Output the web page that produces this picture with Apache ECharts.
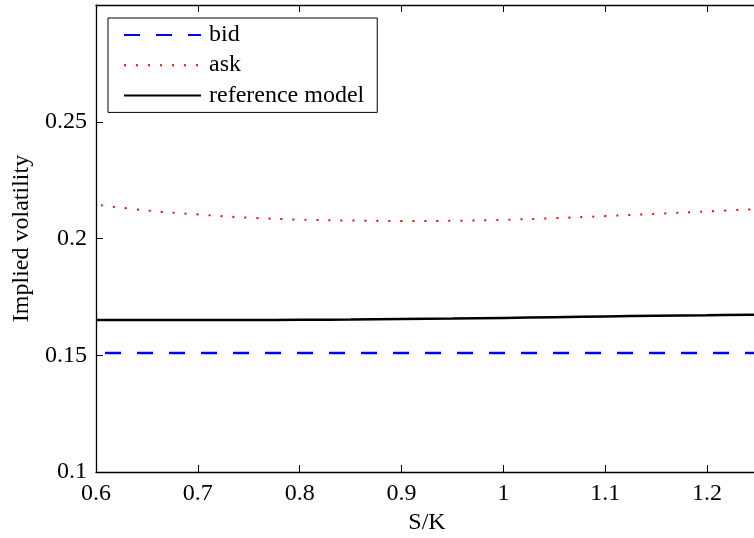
<!DOCTYPE html>
<html>
<head>
<meta charset="utf-8">
<script src="https://cdn.jsdelivr.net/npm/echarts@6/dist/echarts.min.js"></script>
<style>html,body{margin:0;padding:0;background:#fff}#c{width:754px;height:538px}</style>
</head>
<body>
<div id="c"></div>
<script>
// Data
var sk = [0.60, 0.65, 0.70, 0.75, 0.80, 0.85, 0.90, 0.95, 1.00, 1.05, 1.10, 1.15, 1.20, 1.25];
var bid = [0.151, 0.151, 0.151, 0.151, 0.151, 0.151, 0.151, 0.151, 0.151, 0.151, 0.151, 0.151, 0.151, 0.151];
var ask = [0.2145, 0.2120, 0.2103, 0.2089, 0.2081, 0.2077, 0.2075, 0.2076, 0.2080, 0.2087, 0.2096, 0.2106, 0.2116, 0.2126];
var refModel = [0.1651, 0.1651, 0.1651, 0.1651, 0.1652, 0.1653, 0.1655, 0.1657, 0.1660, 0.1663, 0.1666, 0.1669, 0.1671, 0.1674];
var seriesNames = ['bid', 'ask', 'reference model'];
var xTitle = 'S/K';
var yTitle = 'Implied volatility';

function pairs(xs, ys) { return xs.map(function (x, i) { return [x, ys[i]]; }); }
function fmt(v) { return String(+v.toFixed(2)); }

var FONT = '"Liberation Serif", "Times New Roman", serif';
var chart = echarts.init(document.getElementById('c'), null, { renderer: 'canvas' });
var axisCommon = {
  axisLine: { show: true, onZero: false, lineStyle: { color: '#000', width: 1.3 } },
  axisTick: { show: true, inside: true, length: 7, lineStyle: { color: '#000', width: 1 } },
  splitLine: { show: false }
};
chart.setOption({
  animation: false,
  backgroundColor: '#fff',
  grid: { left: 96, top: 5, width: 662, height: 467, containLabel: false, outerBoundsMode: 'none' },
  legend: {
    orient: 'vertical', left: 108, top: 18,
    data: seriesNames,
    itemWidth: 77, itemHeight: 14, itemGap: 6.2,
    padding: [5, 13, 5, 15],
    borderColor: '#000', borderWidth: 1, backgroundColor: '#fff',
    itemStyle: { opacity: 0, borderWidth: 0 },
    lineStyle: { dashOffset: 0 },
    textStyle: { fontFamily: FONT, fontSize: 24, color: '#000', padding: [0, 0, 0, 3] }
  },
  xAxis: [
    Object.assign({}, axisCommon, {
      type: 'value', position: 'bottom', min: 0.6, max: 1.25, interval: 0.1,
      name: xTitle, nameLocation: 'middle', nameGap: 30,
      nameTextStyle: { fontFamily: FONT, fontSize: 24, color: '#000' },
      axisLabel: { fontFamily: FONT, fontSize: 24, color: '#000', margin: 10,
        formatter: function (v) { return v > 1.24 ? '' : fmt(v); } }
    }),
    Object.assign({}, axisCommon, {
      type: 'value', position: 'top', min: 0.6, max: 1.25, interval: 0.1,
      axisLabel: { show: false }
    })
  ],
  yAxis: [
    Object.assign({}, axisCommon, {
      type: 'value', position: 'left', min: 0.1, max: 0.3, interval: 0.05,
      name: yTitle, nameLocation: 'middle', nameGap: 62,
      nameTextStyle: { fontFamily: FONT, fontSize: 24, color: '#000' },
      axisLabel: { fontFamily: FONT, fontSize: 24, color: '#000', margin: 9,
        formatter: function (v) { return v > 0.29 ? '' : fmt(v); } }
    })
  ],
  series: [
    { name: seriesNames[0], type: 'line', data: pairs(sk, bid), symbol: 'none',
      lineStyle: { color: '#0000ff', width: 2.5, type: [16, 16], dashOffset: 23, cap: 'butt' },
      itemStyle: { color: '#0000ff' } },
    { name: seriesNames[1], type: 'line', data: pairs(sk, ask), symbol: 'none', smooth: 0.4,
      lineStyle: { color: '#ff0000', width: 2, type: [2, 10], dashOffset: 7, cap: 'butt' },
      itemStyle: { color: '#ff0000' } },
    { name: seriesNames[2], type: 'line', data: pairs(sk, refModel), symbol: 'none', smooth: 0.4,
      lineStyle: { color: '#000', width: 2.5 },
      itemStyle: { color: '#000' } }
  ]
});
</script>
</body>
</html>
